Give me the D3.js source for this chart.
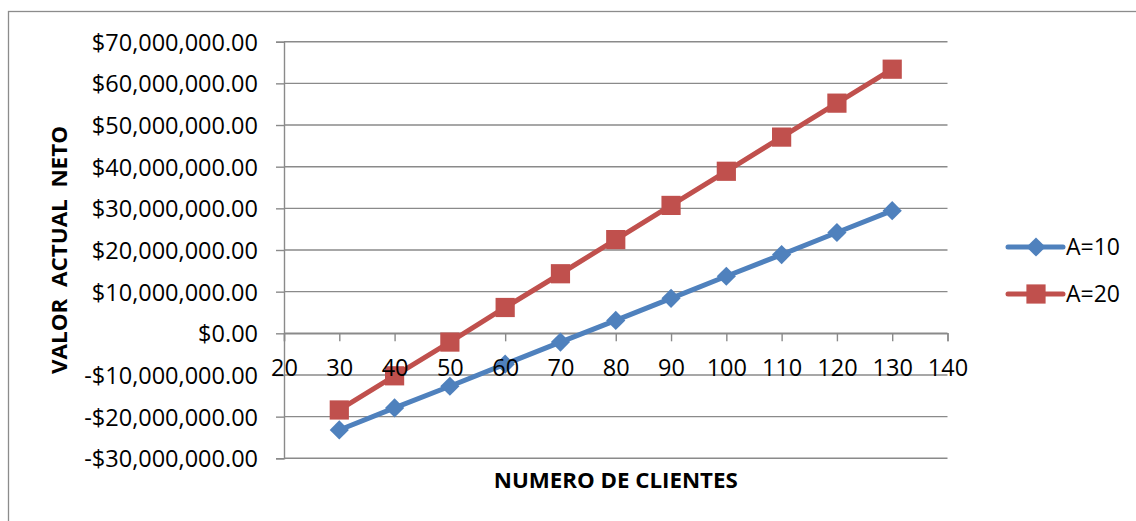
<!DOCTYPE html>
<html>
<head>
<meta charset="utf-8">
<script src="https://cdn.jsdelivr.net/npm/d3@7/dist/d3.min.js"></script>
<style>
  html, body { margin: 0; padding: 0; background: #fff; }
  svg { display: block; }
  text { font-family: "Open Sans", Lato, sans-serif; fill: #000; }
</style>
</head>
<body>
<svg id="chart" width="1136" height="521"></svg>
<script>
// Number of clients on the x axis
const clientes = [30, 40, 50, 60, 70, 80, 90, 100, 110, 120, 130];
// Net present value for each scenario
const serieA10 = [-23200000, -17900000, -12700000, -7400000, -2100000, 3100000, 8400000, 13700000, 18900000, 24200000, 29450000];
const serieA20 = [-18400000, -10200000, -2100000, 6200000, 14300000, 22500000, 30700000, 38900000, 47100000, 55250000, 63400000];
const seriesNames = ["A=10", "A=20"];
const xTicks = [20, 30, 40, 50, 60, 70, 80, 90, 100, 110, 120, 130, 140];
const yTicks = [-30000000, -20000000, -10000000, 0, 10000000, 20000000, 30000000, 40000000, 50000000, 60000000, 70000000];
const xTitle = "NUMERO DE CLIENTES";
const yTitle = "VALOR\u00a0\u00a0ACTUAL\u00a0\u00a0NETO";

const colors = ["#4F81BD", "#C0504D"];
const gridColor = "#8a8a8a";

const svg = d3.select("#chart");

// Outer chart frame (runs off the right and bottom edges)
svg.append("rect")
  .attr("x", 8.5).attr("y", 11.5)
  .attr("width", 1200).attr("height", 600)
  .attr("fill", "#fff")
  .attr("stroke", "#8c8c8c").attr("stroke-width", 1.3);

const x = d3.scaleLinear().domain([20, 140]).range([284, 947.5]);
const y = d3.scaleLinear().domain([-30000000, 70000000]).range([458.3, 41.7]);

const locale = d3.formatLocale({ decimal: ".", thousands: ",", grouping: [3], currency: ["$", ""], minus: "-" });
const fmt = locale.format("$,.2f");

// Horizontal gridlines
svg.append("g")
  .selectAll("line")
  .data(yTicks)
  .join("line")
  .attr("x1", x(20)).attr("x2", x(140))
  .attr("y1", d => y(d)).attr("y2", d => y(d))
  .attr("stroke", gridColor).attr("stroke-width", 1.4);

// Y axis
const yAxis = svg.append("g")
  .attr("transform", `translate(${x(20)},0)`)
  .call(d3.axisLeft(y).tickValues(yTicks).tickFormat(fmt).tickSize(8).tickPadding(18));
yAxis.select(".domain").attr("stroke", gridColor).attr("stroke-width", 1.4);
yAxis.selectAll(".tick line").attr("stroke", gridColor).attr("stroke-width", 1.4);
yAxis.selectAll("text").style("font-size", "23.5px").attr("dy", "0.36em");

// X axis along the zero line (ticks only; labels drawn after the series)
const xAxisG = svg.append("g")
  .attr("transform", `translate(0,${y(0)})`)
  .call(d3.axisBottom(x).tickValues(xTicks).tickFormat("").tickSize(8));
xAxisG.select(".domain").attr("stroke", gridColor).attr("stroke-width", 1.4);
xAxisG.selectAll(".tick line").attr("stroke", gridColor).attr("stroke-width", 1.4);

// Series
const seriesData = [serieA10, serieA20].map((vals, i) => ({
  name: seriesNames[i],
  color: colors[i],
  points: clientes.map((c, j) => ({ x: c, y: vals[j] }))
}));

const line = d3.line().x(d => x(d.x)).y(d => y(d.y));
const diamond = d3.symbol().type(d3.symbolDiamond2).size(235);
const square = d3.symbol().type(d3.symbolSquare2).size(470);
const markerFor = i => (i === 0 ? diamond : square);

seriesData.forEach((s, i) => {
  const g = svg.append("g");
  g.append("path")
    .datum(s.points)
    .attr("d", line)
    .attr("fill", "none")
    .attr("stroke", s.color)
    .attr("stroke-width", 5)
    .attr("stroke-linejoin", "round");
  g.selectAll("path.marker")
    .data(s.points)
    .join("path")
    .attr("class", "marker")
    .attr("transform", d => `translate(${x(d.x)},${y(d.y)})`)
    .attr("d", markerFor(i)())
    .attr("fill", s.color);
});

// X tick labels on top of the series
const xAxisLabels = svg.append("g")
  .attr("transform", `translate(0,${y(0)})`)
  .call(d3.axisBottom(x).tickValues(xTicks).tickSize(8).tickPadding(18.5));
xAxisLabels.select(".domain").remove();
xAxisLabels.selectAll(".tick line").remove();
xAxisLabels.selectAll("text").style("font-size", "23.5px");

// Axis titles
svg.append("text")
  .attr("x", (x(20) + x(140)) / 2).attr("y", 488)
  .attr("text-anchor", "middle")
  .attr("textLength", 244).attr("lengthAdjust", "spacingAndGlyphs")
  .style("font-size", "22px").style("font-weight", "bold")
  .text(xTitle);

svg.append("text")
  .attr("transform", `translate(67,${(y(70000000) + y(-30000000)) / 2}) rotate(-90)`)
  .attr("text-anchor", "middle")
  .attr("textLength", 248).attr("lengthAdjust", "spacingAndGlyphs")
  .style("font-size", "22px").style("font-weight", "bold")
  .text(yTitle);

// Legend
const legend = svg.append("g");
seriesData.forEach((s, i) => {
  const ly = 247 + i * 47;
  const g = legend.append("g").attr("transform", `translate(0,${ly})`);
  g.append("line")
    .attr("x1", 1008).attr("x2", 1063)
    .attr("stroke", s.color).attr("stroke-width", 5).attr("stroke-linecap", "round");
  g.append("path")
    .attr("transform", "translate(1036,0)")
    .attr("d", markerFor(i)())
    .attr("fill", s.color);
  g.append("text")
    .attr("x", 1066).attr("dy", "0.36em")
    .style("font-size", "23px")
    .text(s.name);
});
</script>
</body>
</html>
